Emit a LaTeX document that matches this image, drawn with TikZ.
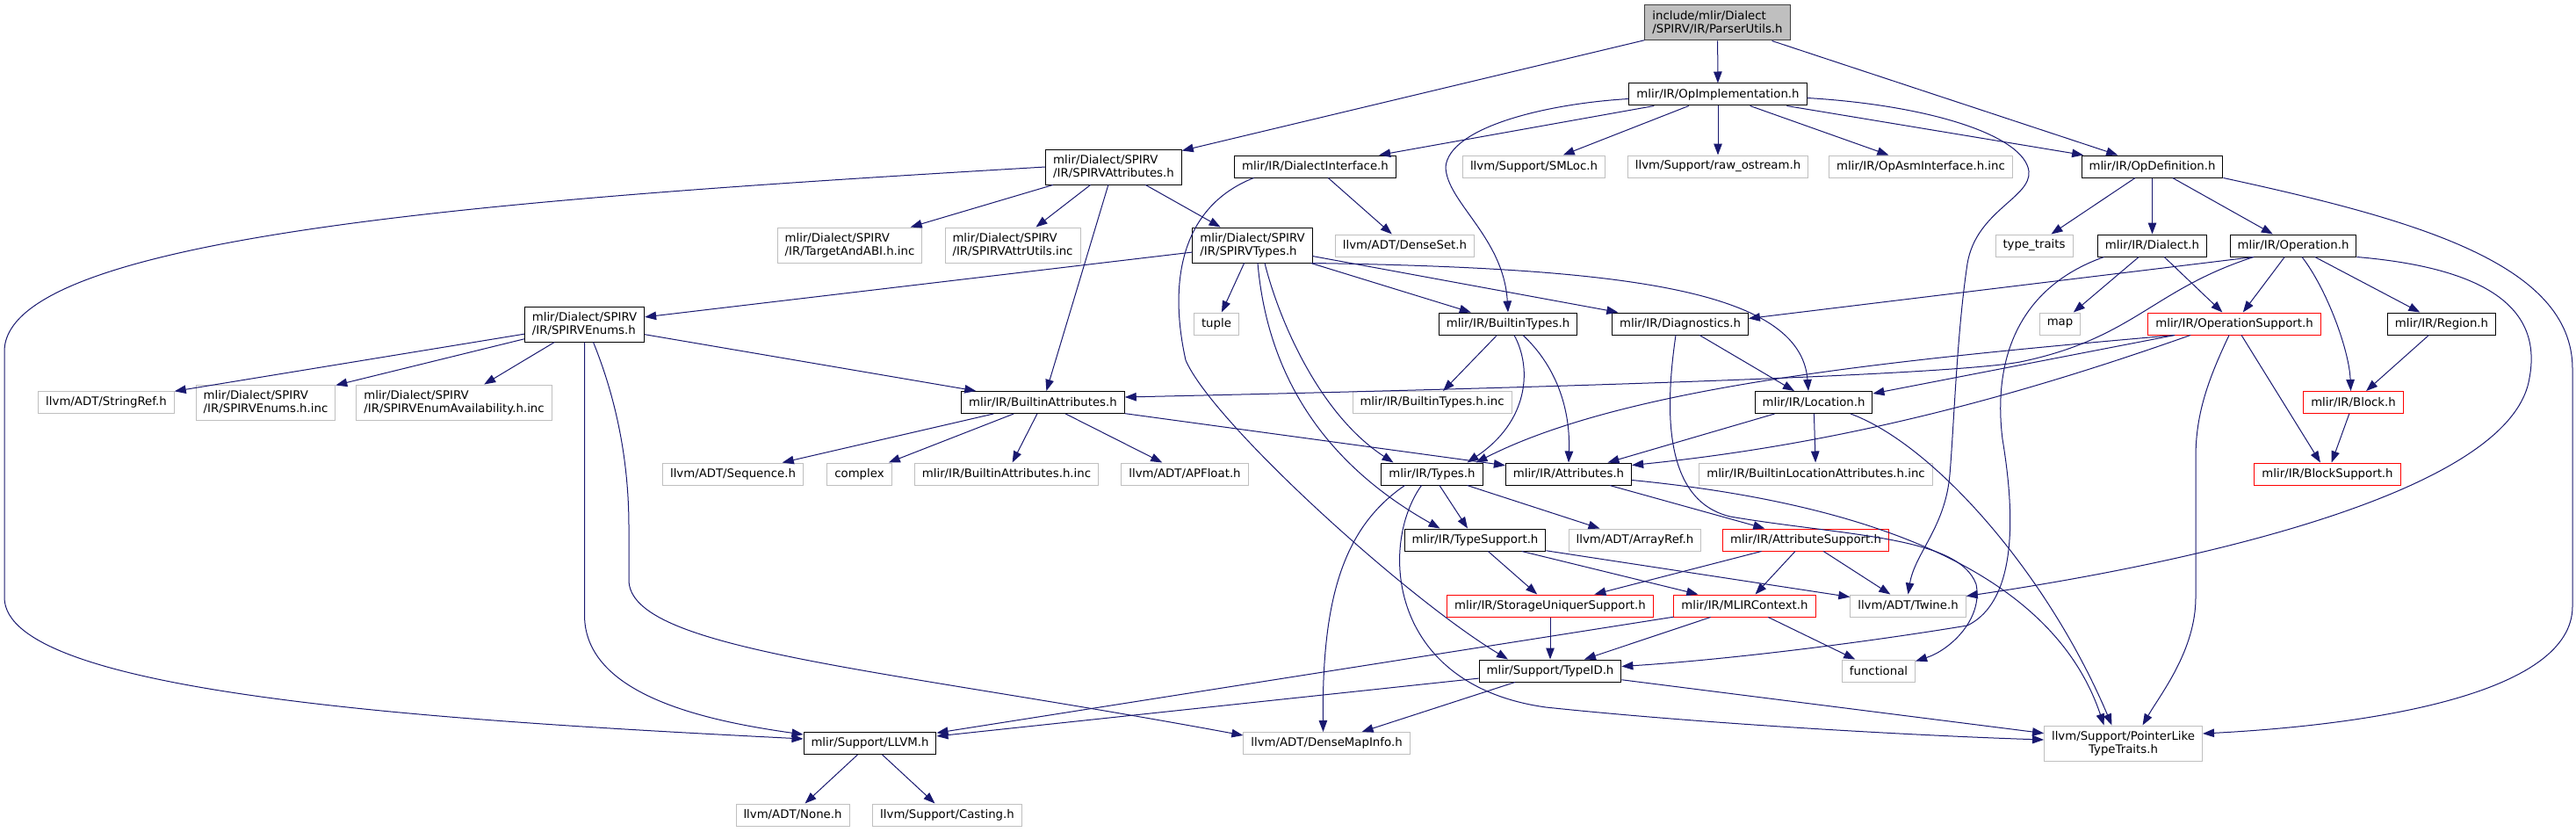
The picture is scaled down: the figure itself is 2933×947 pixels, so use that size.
\documentclass[tikz,border=0pt]{standalone}
\usepackage{fontspec}
\setmainfont{DejaVu Sans}
\usetikzlibrary{arrows.meta}
\definecolor{depblue}{HTML}{191970}
\definecolor{extgray}{HTML}{BFBFBF}
\begin{document}
\begin{tikzpicture}[x=1pt,y=-1pt,
  font=\fontsize{13.3}{15}\selectfont,
  filebox/.style={draw=black,fill=white,line width=1pt,inner xsep=8.5pt,inner ysep=0pt,minimum height=25pt},
  extbox/.style={filebox,draw=extgray},
  redbox/.style={filebox,draw=red},
  rootbox/.style={filebox,fill=extgray,draw=black!75},
  twoline/.style={align=left,minimum height=40pt},
  dep/.style={draw=depblue,line width=1pt,-{Triangle[length=13pt,width=9.5pt]}}]
\fill[white] (0,0) rectangle (2933,947);
\useasboundingbox (0,0) rectangle (2933,947);
\node[rootbox,twoline] (parserutils) at (1955.5,26) {include/mlir/Dialect\\/SPIRV/IR/ParserUtils.h};
\node[filebox] (opimpl) at (1956,107.5) {mlir/IR/OpImplementation.h};
\node[filebox,twoline] (spirvattr) at (1268,190) {mlir/Dialect/SPIRV\\/IR/SPIRVAttributes.h};
\node[filebox] (dialectiface) at (1497.5,189.5) {mlir/IR/DialectInterface.h};
\node[extbox] (smloc) at (1746.5,189.5) {llvm/Support/SMLoc.h};
\node[extbox] (rawostream) at (1956,189.5) {llvm/Support/raw\_ostream.h};
\node[extbox] (opasm) at (2187,189.5) {mlir/IR/OpAsmInterface.h.inc};
\node[filebox] (opdef) at (2450.5,189.5) {mlir/IR/OpDefinition.h};
\node[extbox,twoline] (targetabi) at (967.5,279) {mlir/Dialect/SPIRV\\/IR/TargetAndABI.h.inc};
\node[extbox,twoline] (attrutils) at (1153,279) {mlir/Dialect/SPIRV\\/IR/SPIRVAttrUtils.inc};
\node[filebox,twoline] (spirvtypes) at (1426,279) {mlir/Dialect/SPIRV\\/IR/SPIRVTypes.h};
\node[extbox] (denseset) at (1599.5,279.5) {llvm/ADT/DenseSet.h};
\node[extbox] (typetraits) at (2316,279.5) {type\_traits};
\node[filebox] (dialect) at (2450.5,279.5) {mlir/IR/Dialect.h};
\node[filebox] (operation) at (2611,279.5) {mlir/IR/Operation.h};
\node[filebox,twoline] (spirvenums) at (665.5,369) {mlir/Dialect/SPIRV\\/IR/SPIRVEnums.h};
\node[extbox] (tuple) at (1385,368.5) {tuple};
\node[filebox] (builtintypes) at (1717,368.5) {mlir/IR/BuiltinTypes.h};
\node[filebox] (diagnostics) at (1913,368.5) {mlir/IR/Diagnostics.h};
\node[extbox] (mapfile) at (2345.5,368.5) {map};
\node[redbox] (opsupport) at (2544,368.5) {mlir/IR/OperationSupport.h};
\node[filebox] (region) at (2780,368.5) {mlir/IR/Region.h};
\node[extbox] (stringref) at (121,458) {llvm/ADT/StringRef.h};
\node[extbox,twoline] (enumsinc) at (302.5,458) {mlir/Dialect/SPIRV\\/IR/SPIRVEnums.h.inc};
\node[extbox,twoline] (enumavail) at (517,458) {mlir/Dialect/SPIRV\\/IR/SPIRVEnumAvailability.h.inc};
\node[filebox] (builtinattrs) at (1187.5,458) {mlir/IR/BuiltinAttributes.h};
\node[extbox] (builtintypesinc) at (1630.5,458) {mlir/IR/BuiltinTypes.h.inc};
\node[filebox] (location) at (2065,458) {mlir/IR/Location.h};
\node[redbox] (block) at (2679.5,458) {mlir/IR/Block.h};
\node[extbox] (sequence) at (834.5,539.5) {llvm/ADT/Sequence.h};
\node[extbox] (complexfile) at (978.5,539.5) {complex};
\node[extbox] (builtinattrsinc) at (1146,539.5) {mlir/IR/BuiltinAttributes.h.inc};
\node[extbox] (apfloat) at (1349,539.5) {llvm/ADT/APFloat.h};
\node[filebox] (types) at (1630.5,539.5) {mlir/IR/Types.h};
\node[filebox] (attributes) at (1786,539.5) {mlir/IR/Attributes.h};
\node[extbox] (builtinlocinc) at (2067.5,539.5) {mlir/IR/BuiltinLocationAttributes.h.inc};
\node[redbox] (blocksupport) at (2650,539.5) {mlir/IR/BlockSupport.h};
\node[filebox] (typesupport) at (1679.5,614.5) {mlir/IR/TypeSupport.h};
\node[extbox] (arrayref) at (1861.5,614.5) {llvm/ADT/ArrayRef.h};
\node[redbox] (attrsupport) at (2056,614.5) {mlir/IR/AttributeSupport.h};
\node[redbox] (storageuniquer) at (1765,689.5) {mlir/IR/StorageUniquerSupport.h};
\node[redbox] (mlircontext) at (1986.5,689.5) {mlir/IR/MLIRContext.h};
\node[extbox] (twine) at (2172.5,689.5) {llvm/ADT/Twine.h};
\node[filebox] (typeidfile) at (1765,763.5) {mlir/Support/TypeID.h};
\node[extbox] (functional) at (2139,763.5) {functional};
\node[filebox] (llvmh) at (990.5,846) {mlir/Support/LLVM.h};
\node[extbox] (densemapinfo) at (1510.5,846) {llvm/ADT/DenseMapInfo.h};
\node[extbox,twoline,align=center] (pointerlike) at (2417.5,846) {llvm/Support/PointerLike\\TypeTraits.h};
\node[extbox] (nonefile) at (902.5,927.5) {llvm/ADT/None.h};
\node[extbox] (casting) at (1078.5,927.5) {llvm/Support/Casting.h};
\draw[dep] (parserutils) -- (spirvattr);
\draw[dep] (parserutils) -- (opimpl);
\draw[dep] (parserutils) -- (opdef);
\draw[dep] (opimpl) -- (dialectiface);
\draw[dep] (opimpl) -- (smloc);
\draw[dep] (opimpl) -- (rawostream);
\draw[dep] (opimpl) -- (opasm);
\draw[dep] (opimpl) -- (opdef);
\draw[dep] ([yshift=-5pt]opimpl.west) .. controls (1760,118) and (1650,145) .. (1646,190) .. controls (1647,230) and (1712,270) .. (builtintypes.north);
\draw[dep] ([yshift=-4pt]opimpl.east) .. controls (2200,120) and (2305,155) .. (2310,195) .. controls (2313,225) and (2250,240) .. (2240,300) .. controls (2228,380) and (2225,480) .. (2220,540) .. controls (2215,600) and (2180,630) .. (twine.north);
\draw[dep] (spirvattr) -- (targetabi);
\draw[dep] (spirvattr) -- (attrutils);
\draw[dep] (spirvattr) -- (spirvtypes);
\draw[dep] (spirvattr) -- (builtinattrs);
\draw[dep] (spirvattr.west) .. controls (600,225) and (5,265) .. (5,400) -- (5,680) .. controls (5,790) and (500,820) .. ([yshift=5pt]llvmh.west);
\draw[dep] (dialectiface) -- (denseset);
\draw[dep] ([xshift=-70pt]dialectiface.south) .. controls (1345,235) and (1330,320) .. (1350,410) .. controls (1380,480) and (1600,680) .. ([xshift=-48pt]typeidfile.north);
\draw[dep] (opdef) -- (typetraits);
\draw[dep] (opdef) -- (dialect);
\draw[dep] (opdef) -- (operation);
\draw[dep] (opdef.south east) .. controls (2750,250) and (2929,300) .. (2929,420) -- (2929,690) .. controls (2929,790) and (2700,825) .. ([yshift=11pt]pointerlike.east);
\draw[dep] (spirvtypes) -- (spirvenums);
\draw[dep] (spirvtypes) -- (tuple);
\draw[dep] (spirvtypes) -- (builtintypes);
\draw[dep] (spirvtypes) -- (diagnostics);
\draw[dep] (spirvtypes.south east) .. controls (1850,305) and (2050,330) .. ([xshift=-6pt]location.north);
\draw[dep] ([xshift=14pt]spirvtypes.south) .. controls (1455,360) and (1500,470) .. ([xshift=-44pt]types.north);
\draw[dep] ([xshift=6pt]spirvtypes.south) .. controls (1445,450) and (1530,540) .. ([xshift=-40pt]typesupport.north);
\draw[dep] (dialect) -- (mapfile);
\draw[dep] (dialect) -- (opsupport);
\draw[dep] ([xshift=-55pt]dialect.south) .. controls (2290,330) and (2270,420) .. (2280,500) .. controls (2300,620) and (2285,690) .. (2240,712) .. controls (2100,735) and (1950,752) .. ([yshift=5pt]typeidfile.east);
\draw[dep] ([xshift=-45pt]operation.south) -- ([yshift=6pt]diagnostics.east);
\draw[dep] (operation) -- (opsupport);
\draw[dep] (operation) -- (region);
\draw[dep] ([xshift=10pt]operation.south) .. controls (2650,330) and (2675,400) .. ([xshift=-3pt]block.north);
\draw[dep] ([xshift=-45pt]operation.south) .. controls (2450,330) and (2430,385) .. (2300,412) .. controls (2200,430) and (1600,445) .. ([yshift=6pt]builtinattrs.east);
\draw[dep] (operation.south east) .. controls (2830,305) and (2895,350) .. (2880,430) .. controls (2860,560) and (2500,640) .. ([yshift=11pt]twine.east);
\draw[dep] (spirvenums) -- (stringref);
\draw[dep] (spirvenums) -- (enumsinc);
\draw[dep] (spirvenums) -- (enumavail);
\draw[dep] (spirvenums) -- (builtinattrs);
\draw[dep] (spirvenums.south) -- (665.5,700) .. controls (665.5,790) and (800,820) .. ([yshift=-3pt]llvmh.north west);
\draw[dep] ([xshift=10pt]spirvenums.south) .. controls (700,450) and (716,520) .. (716,600) -- (716,660) .. controls (716,740) and (1000,760) .. ([yshift=9pt]densemapinfo.west);
\draw[dep] (builtintypes) -- (builtintypesinc);
\draw[dep] ([xshift=7pt]builtintypes.south) .. controls (1745,420) and (1740,480) .. ([xshift=40pt]types.north);
\draw[dep] ([xshift=17pt]builtintypes.south) .. controls (1775,420) and (1788,470) .. (attributes.north);
\draw[dep] (diagnostics) -- (location);
\draw[dep] ([xshift=-5pt]diagnostics.south) .. controls (1895,470) and (1895,570) .. (1970,588) .. controls (2100,610) and (2230,610) .. (2250,665) .. controls (2258,705) and (2220,740) .. ([yshift=-2pt]functional.north east);
\draw[dep] (opsupport) -- (blocksupport);
\draw[dep] ([xshift=-6pt]opsupport.south) .. controls (2515,430) and (2500,470) .. (2500,520) -- (2500,680) .. controls (2500,740) and (2460,790) .. ([xshift=22pt]pointerlike.north);
\draw[dep] ([xshift=-68pt]opsupport.south) .. controls (2150,410) and (1850,440) .. ([xshift=50pt]types.north);
\draw[dep] ([xshift=-68pt]opsupport.south) -- ([yshift=-3pt]location.north east);
\draw[dep] ([xshift=-50pt]opsupport.south) .. controls (2300,450) and (2100,505) .. ([yshift=-3pt]attributes.north east);
\draw[dep] (region) -- (block);
\draw[dep] (builtinattrs) -- (sequence);
\draw[dep] (builtinattrs) -- (complexfile);
\draw[dep] (builtinattrs) -- (builtinattrsinc);
\draw[dep] (builtinattrs) -- (apfloat);
\draw[dep] (builtinattrs) -- (attributes);
\draw[dep] (location) -- (attributes);
\draw[dep] (location) -- (builtinlocinc);
\draw[dep] ([xshift=42pt]location.south) .. controls (2200,505) and (2330,650) .. ([xshift=-13pt]pointerlike.north);
\draw[dep] (block) -- (blocksupport);
\draw[dep] (types) -- (typesupport);
\draw[dep] (types) -- (arrayref);
\draw[dep] ([xshift=-31pt]types.south) .. controls (1530,600) and (1505,680) .. ([xshift=-4pt]densemapinfo.north);
\draw[dep] ([xshift=-12pt]types.south) .. controls (1570,620) and (1580,780) .. (1760,805) .. controls (1950,825) and (2200,838) .. ([yshift=4pt]pointerlike.west);
\draw[dep] (attributes) -- (attrsupport);
\draw[dep] ([yshift=-7pt]attributes.east) .. controls (2150,575) and (2340,660) .. ([xshift=-22pt]pointerlike.north);
\draw[dep] (typesupport) -- (storageuniquer);
\draw[dep] (typesupport) -- (mlircontext);
\draw[dep] (typesupport) -- (twine);
\draw[dep] (attrsupport) -- (storageuniquer);
\draw[dep] (attrsupport) -- (mlircontext);
\draw[dep] (attrsupport) -- (twine);
\draw[dep] (storageuniquer) -- (typeidfile);
\draw[dep] (mlircontext) -- (typeidfile);
\draw[dep] (mlircontext) -- (functional);
\draw[dep] (mlircontext) -- (llvmh);
\draw[dep] (typeidfile) -- (llvmh);
\draw[dep] (typeidfile) -- (densemapinfo);
\draw[dep] (typeidfile) -- (pointerlike);
\draw[dep] (llvmh) -- (nonefile);
\draw[dep] (llvmh) -- (casting);
\end{tikzpicture}
\end{document}
